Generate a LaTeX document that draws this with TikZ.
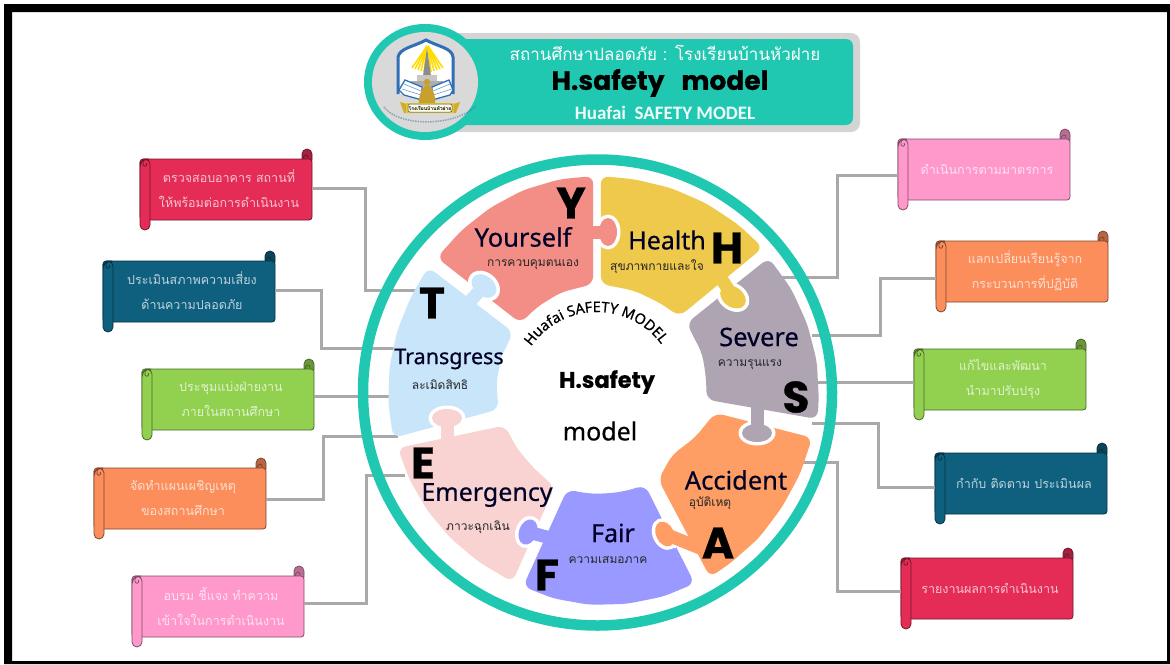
\documentclass[tikz,border=0pt]{standalone}
\usepackage{fontspec}
\usetikzlibrary{calc,decorations.text}
\setmainfont{Noto Sans}
\newfontfamily\thaifont[Script=Thai]{Loma}
\newfontfamily\popfont[BoldFeatures={FakeBold=0.6}]{Poppins}
\newfontfamily\labfont[RawFeature={embolden=0.5}]{Noto Sans}
\newfontfamily\calfont{Carlito}
\definecolor{ringc}{HTML}{21C8B1}
\definecolor{conc}{HTML}{A9A9A9}
\definecolor{cred}{HTML}{E42C56}
\definecolor{cblue}{HTML}{0F607F}
\definecolor{cgreen}{HTML}{92D050}
\definecolor{corange}{HTML}{FB8E5B}
\definecolor{cpink}{HTML}{FF99CC}
\definecolor{py}{HTML}{F28E86}
\definecolor{ph}{HTML}{EFC94C}
\definecolor{ps}{HTML}{AFA4B2}
\definecolor{pa}{HTML}{FF9E64}
\definecolor{pf}{HTML}{9999FF}
\definecolor{pe}{HTML}{F9D2D2}
\definecolor{pt}{HTML}{C9E5FA}
\definecolor{logob}{HTML}{2F6FB5}
\definecolor{logog}{HTML}{C9A02C}
\newcommand{\pp}[2]{({597+(#2)*cos(#1)},{392-(#2)*sin(#1)})}
\newcommand{\scrollbox}[5]{%
 \begin{scope}[shift={(#2,#3)}]
  \draw[line width=.8pt,draw=#4!50!black,fill=#4!72!black,rounded corners=5pt] (162,6) -- (162,-10) -- (172,-10) -- (172,6) -- cycle;
  \node[scrollbody,fill=#4,draw=#4!50!black] (#1) at (86,30.5) {};
  \draw[line width=.8pt,draw=#4!50!black] (163,0) .. controls (163,-5) and (169,-5) .. (168,-1);
  \draw[line width=.8pt,draw=#4!50!black,fill=#4,rounded corners=5pt] (0,8) -- (0,71) -- (10,71) -- (10,0) -- (4,0) -- (0,4) -- cycle;
  \draw[line width=.7pt,draw=#4!45!black] (9,2) .. controls (5,-2) and (2,2) .. (3,6) .. controls (5,9) and (8,6) .. (6,4);
  \node[scrolltext,text=#4!28!white] (#1t) at (89,30) {#5};
 \end{scope}}
\newcommand{\tabblob}[8]{%
  \coordinate (bb) at (#2,#3); \coordinate (nn) at (#7,#8);
  \fill[white,rotate around={#6:(bb)}] (bb) ellipse ({#4+3.5} and {#5+3.5});
  \draw[white,line width=19pt] (bb) -- ($(bb)!0.4!(nn)$);
  \draw[#1,line width=13pt] (nn) -- (bb);
  \fill[#1,rotate around={#6:(bb)}] (bb) ellipse (#4 and #5);}
\tikzset{
 scrollbody/.style={minimum width=172pt,minimum height=61pt,inner sep=0pt,outer sep=0pt,rounded corners=3pt,line width=.8pt},
 scrolltext/.style={font=\thaifont\fontsize{12.5}{25}\selectfont,align=center,inner sep=0pt},
 conn/.style={draw=conc,line width=3pt,line join=miter},
 piece/.style={rounded corners=8pt},
 plabel/.style={font=\labfont\fontsize{#1}{#1}\selectfont,text=black!85!blue,inner sep=0pt},
 psub/.style={font=\thaifont\fontsize{12}{12}\selectfont,text=black!85,inner sep=0pt},
 bigl/.style={font=\popfont\bfseries\fontsize{44}{44}\selectfont,text=black,inner sep=0pt},
}
\begin{document}
\begin{tikzpicture}[x=1pt,y=-1pt]
\useasboundingbox (0,0) rectangle (1170,664);
\fill[white] (0,0) rectangle (1170,664);
\fill[black,even odd rule] (4,4) rectangle (1170,664) (12,12) rectangle (1167,661);
% scrolls
\scrollbox{bA}{140}{159}{cred}{ตรวจสอบอาคาร สถานที่\\ให้พร้อมต่อการดำเนินงาน}
\scrollbox{bB}{103}{261}{cblue}{ประเมินสภาพความเสี่ยง\\ด้านความปลอดภัย}
\scrollbox{bC}{142}{369}{cgreen}{ประชุมแบ่งฝ่ายงาน\\ภายในสถานศึกษา}
\scrollbox{bD}{94}{468}{corange}{จัดทำแผนเผชิญเหตุ\\ของสถานศึกษา}
\scrollbox{bE}{132}{576}{cpink}{อบรม ชี้แจง ทำความ\\เข้าใจในการดำเนินงาน}
\scrollbox{bF}{898}{139}{cpink}{ดำเนินการตามมาตรการ}
\scrollbox{bG}{936}{241}{corange}{แลกเปลี่ยนเรียนรู้จาก\\กระบวนการที่ปฏิบัติ}
\scrollbox{bH}{914}{349}{cgreen}{แก้ไขและพัฒนา\\นำมาปรับปรุง}
\scrollbox{bI}{935}{453}{cblue}{กำกับ ติดตาม ประเมินผล}
\scrollbox{bJ}{901}{558}{cred}{รายงานผลการดำเนินงาน}
% connector waypoints
\coordinate (ja) at (365,188); \coordinate (ea) at (420,290);
\coordinate (jb) at (321,290); \coordinate (eb) at (395,348);
\coordinate (jc) at (313,396); \coordinate (ec) at (392,396);
\coordinate (jd) at (323,499); \coordinate (ed) at (398,436);
\coordinate (je) at (366,603); \coordinate (ee) at (405,475);
\coordinate (jf) at (837,175); \coordinate (ef) at (780,277);
\coordinate (jg) at (880,278); \coordinate (eg) at (812,335);
\coordinate (jh) at (880,382); \coordinate (eh) at (812,382);
\coordinate (ji) at (878,487); \coordinate (ei) at (812,423);
\coordinate (jj) at (837,591); \coordinate (ej) at (800,462);
\draw[conn] (bA.east |- ja) -- (ja) -- (ja |- ea) -- (ea);
\draw[conn] (bB.east |- jb) -- (jb) -- (jb |- eb) -- (eb);
\draw[conn] (bC.east |- jc) -- (ec);
\draw[conn] (bD.east |- jd) -- (jd) -- (jd |- ed) -- (ed);
\draw[conn] (bE.east |- je) -- (je) -- (je |- ee) -- (ee);
\draw[conn] (bF.west |- jf) -- (jf) -- (jf |- ef) -- (ef);
\draw[conn] (bG.west |- jg) -- (jg) -- (jg |- eg) -- (eg);
\draw[conn] (bH.west |- jh) -- (eh);
\draw[conn] (bI.west |- ji) -- (ji) -- (ji |- ei) -- (ei);
\draw[conn] (bJ.west |- jj) -- (jj) -- (jj |- ej) -- (ej);
% ring
\draw[ringc,line width=10.5pt] (597.5,392.5) ellipse (234.5 and 233);
% pieces
\fill[py,piece] \pp{91}{216} -- \pp{100}{216} -- \pp{110}{215} -- \pp{120}{213} -- \pp{130}{211} -- \pp{140}{209} -- \pp{138}{103} -- \pp{125}{104} -- \pp{110}{106} -- \pp{92}{108} -- cycle;
\fill[ph,piece] \pp{89}{216} -- \pp{80}{216} -- \pp{70}{217} -- \pp{60}{218} -- \pp{50}{219} -- \pp{41}{220} -- \pp{42.5}{112} -- \pp{55}{109} -- \pp{70}{108} -- \pp{88}{108} -- cycle;
\fill[ps,piece] \pp{38}{218} -- \pp{28}{220} -- \pp{18}{221} -- \pp{8}{222} -- \pp{-2}{222} -- \pp{-7}{222} -- \pp{-4}{110} -- \pp{8}{110} -- \pp{20}{112} -- \pp{37.5}{113} -- cycle;
\fill[pa,piece] \pp{-12}{220} -- \pp{-22}{219} -- \pp{-32}{218} -- \pp{-42}{218} -- \pp{-52}{217} -- \pp{-58.6}{217} -- \pp{-55}{107} -- \pp{-40}{98} -- \pp{-25}{108} -- \pp{-10}{120} -- cycle;
\fill[pf,piece] \pp{-63}{215} -- \pp{-72}{215} -- \pp{-82}{214} -- \pp{-92}{213} -- \pp{-102}{211} -- \pp{-110.8}{208} -- \pp{-107}{102} -- \pp{-95}{102} -- \pp{-85}{102} -- \pp{-75}{103} -- \pp{-62.7}{105} -- cycle;
\fill[pe,piece] \pp{-114}{208} -- \pp{-125}{207} -- \pp{-135}{207} -- \pp{-145}{207} -- \pp{-155}{207} -- \pp{-164.3}{207} -- \pp{-160}{98} -- \pp{-145}{98} -- \pp{-130}{99} -- \pp{-114}{104} -- cycle;
\fill[pt,piece] \pp{143.5}{210} -- \pp{153}{209} -- \pp{163}{209} -- \pp{173}{209} -- \pp{183}{209} -- \pp{192.7}{209} -- \pp{190}{100} -- \pp{175}{101} -- \pp{160}{102} -- \pp{144.5}{103} -- cycle;
% tabs
\tabblob{py}{608}{232}{9}{14}{0}{588}{232}
\tabblob{ph}{733}{297}{14}{10}{-35}{717}{272}
\tabblob{ps}{757}{433}{15}{9}{0}{757}{403}
\tabblob{pa}{665}{534}{9}{13}{25}{700}{548}
\tabblob{pf}{528}{532}{9}{13}{-20}{558}{540}
\tabblob{pe}{447}{418}{15}{9}{0}{447}{448}
\tabblob{pt}{484}{286}{14}{10}{-40}{462}{310}
% piece labels
\node[plabel=25.5] (lY) at (523,237) {Yourself};
\node[psub] (sY) at (533,265) {การควบคุมตนเอง};
\node[bigl] (cY) at (571,203) {Y};
\node[plabel=25] (lH) at (667,240) {Health};
\node[psub] (sH) at (657,267) {สุขภาพกายและใจ};
\node[bigl] (cH) at (727,248) {H};
\node[plabel=25.5] (lS) at (759,337) {Severe};
\node[psub] (sS) at (750,365) {ความรุนแรง};
\node[bigl] (cS) at (796,397) {S};
\node[plabel=25.5] (lA) at (736,480) {Accident};
\node[psub] (sA) at (710,503) {อุบัติเหตุ};
\node[bigl] (cA) at (718,543) {A};
\node[plabel=25] (lF) at (613,533) {Fair};
\node[psub] (sF) at (608,560) {ความเสมอภาค};
\node[bigl] (cF) at (547,575) {F};
\node[plabel=25] (lE) at (487,495) {Emergency};
\node[psub] (sE) at (478,527) {ภาวะฉุกเฉิน};
\node[bigl] (cE) at (423,463) {E};
\node[plabel=21.5] (lT) at (449,359) {Transgress};
\node[psub] (sT) at (440,385) {ละเมิดสิทธิ};
\node[bigl] (cT) at (432,303) {T};
% centre
\node[font=\popfont\bfseries\fontsize{22.5}{22.5}\selectfont,inner sep=0pt] (c1) at (607,382) {H.safety};
\node[font=\labfont\fontsize{25}{25}\selectfont,inner sep=0pt] (c2) at (600,431) {model};
\path[decorate,decoration={text along path,text align=center,raise=0pt,
  text={|\labfont\fontsize{14.5}{14.5}\selectfont|Huafai  SAFETY MODEL}}]
  plot[domain=152:30,samples=40] ({597+80*cos(\x)},{392-80*sin(\x)});
% header
\fill[black!17,rounded corners=9pt] (430,33) rectangle (860,132);
\fill[ringc,rounded corners=7pt] (430,39) rectangle (853,125);
\fill[ringc] (425,82) ellipse (61 and 58);
\fill[black!15] (425,82) ellipse (53 and 50);
% logo
\draw[logob,line width=3pt,fill=white] (398,94) -- (398,57) .. controls (400,48) and (413,47) .. (426,40) .. controls (439,47) and (452,48) .. (453,57) -- (453,94);
\foreach \ax/\ay in {412/68,415/69,418/70,421/71,424/72}{\draw[yellow!80!orange,line width=1.6pt] (427,46) -- (\ax,\ay);}
\foreach \ax/\ay in {431/72,434/71,437/70,440/69,443/68}{\draw[yellow!80!orange,line width=1.6pt] (428,46) -- (\ax,\ay);}
\fill[black!45] (427,48) -- (423,76) -- (431,76) -- cycle;
\fill[black!22] (417,75) rectangle (437,82);
\fill[black!32] (411,81) rectangle (443,88);
\fill[black!18] (407,87) rectangle (447,94);
\draw[logob,line width=1.3pt,fill=white] (399,90) -- (405,80) -- (422,87) -- (422,100) -- (404,95) -- cycle;
\draw[logob,line width=1.3pt,fill=white] (453,90) -- (449,80) -- (432,87) -- (432,100) -- (450,95) -- cycle;
\draw[logob!70,line width=.6pt] (404,84) -- (421,91) (402,89) -- (421,95) (450,84) -- (433,91) (452,89) -- (433,95);
\fill[logog] (427,82) circle (3.2);
\fill[logog] (419,104) .. controls (418,94) and (424,85) .. (427,85) .. controls (431,85) and (436,94) .. (435,104) -- cycle;
\fill[logog!85!yellow] (400,102) -- (410,105) -- (410,113) -- (404,113) -- cycle;
\fill[logog!85!yellow] (460,102) -- (450,105) -- (450,113) -- (456,113) -- cycle;
\fill[yellow!40!logog] (406,103) rectangle (454,113);
\draw[black!70,line width=.5pt,fill=white!88!yellow,rounded corners=2pt] (408,104) rectangle (452,112);
\node[font=\thaifont\bfseries\fontsize{5}{5}\selectfont,text=black,inner sep=0pt] (logot) at (430,108) {โรงเรียนบ้านหัวฝาย};
\draw[logob!60!gray,line width=1.5pt,dash pattern=on 1.5pt off 1pt,opacity=.55] (384,107) .. controls (398,126) and (452,128) .. (476,106);
\node[font=\thaifont\fontsize{17}{17}\selectfont,text=white,inner sep=0pt] (h1) at (665,53) {สถานศึกษาปลอดภัย : โรงเรียนบ้านหัวฝาย};
\node[font=\popfont\bfseries\fontsize{26.5}{26.5}\selectfont,text=black,inner sep=0pt] (h2) at (660,83) {H.safety\ \ \ model};
\node[font=\calfont\bfseries\fontsize{19}{19}\selectfont,text=white!92!ringc,inner sep=0pt] (h3) at (665,113) {Huafai\ \ SAFETY MODEL};
\end{tikzpicture}
\end{document}
